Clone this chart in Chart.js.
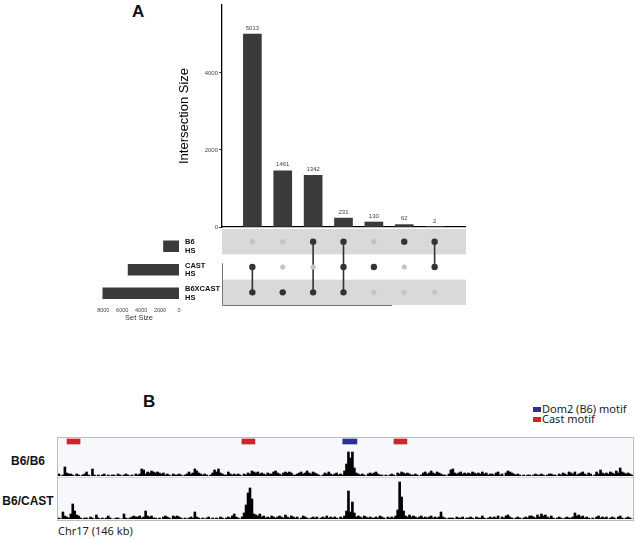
<!DOCTYPE html>
<html>
<head>
<meta charset="utf-8">
<script src="https://cdn.jsdelivr.net/npm/chart.js@4.4.0/dist/chart.umd.min.js"></script>
<style>
    html, body { margin: 0; padding: 0; background: #fff; }
    body { width: 636px; height: 539px; position: relative; overflow: hidden; font-family: "Liberation Sans", Arial, sans-serif; }
    canvas { position: absolute; }
    .txt { position: absolute; white-space: nowrap; line-height: 1; }
    .panel { font-size: 17px; font-weight: bold; color: #111; }
    .track-label { font-size: 12px; font-weight: bold; color: #111; width: 56px; text-align: center; }
    .note { font-family: "Noto Sans", "Open Sans", sans-serif; font-size: 11px; color: #222; }
    .swatch { position: absolute; width: 8px; height: 5px; }
</style>
</head>
<body>

<!-- Panel A -->
<div class="txt panel" style="left:132px; top:3px;">A</div>
<canvas id="intersectChart" width="340" height="235" style="left:130px; top:0px;"></canvas>
<canvas id="setSizeChart" width="135" height="110" style="left:90px; top:220px;"></canvas>
<canvas id="matrixChart" width="245" height="81" style="left:222px; top:227px;"></canvas>

<!-- Panel B -->
<div class="txt panel" style="left:143px; top:393px;">B</div>
<div class="swatch" style="left:533px; top:407px; background:#2e3192;"></div>
<div class="txt note" style="left:542px; top:403px;">Dom2 (B6) motif</div>
<div class="swatch" style="left:533px; top:417px; background:#d2232a;"></div>
<div class="txt note" style="left:542px; top:413px;">Cast motif</div>

<div class="txt track-label" style="left:0px; top:455px;">B6/B6</div>
<div class="txt track-label" style="left:0px; top:495px;">B6/CAST</div>

<div style="position:absolute; left:57px; top:437px; width:575px; height:82px; border:1px solid #bdbdbd; background:#f6f8fb;"></div>
<div style="position:absolute; left:58px; top:477px; width:575px; height:1px; background:#d3d6db;"></div>
<canvas id="motifChart" width="575" height="7" style="left:58px; top:438px;"></canvas>
<canvas id="trackB6" width="575" height="29" style="left:58px; top:447px;"></canvas>
<canvas id="trackCast" width="575" height="41" style="left:58px; top:478px;"></canvas>
<div class="txt note" style="left:58px; top:525px;">Chr17 (146 kb)</div>

<script>
// ==================== ДАННЫЕ ====================

// Панель A: пересечения наборов (UpSet)
const setNames = [['B6', 'HS'], ['CAST', 'HS'], ['B6XCAST', 'HS']];
const setSizes = [1637, 5376, 8047];
const intersectionSizes = [5013, 1461, 1342, 231, 130, 62, 2];
// индексы наборов (строк матрицы), входящих в каждый столбец
const intersectionSets = [[1, 2], [2], [0, 2], [0, 1, 2], [1], [0], [0, 1]];
const intersectionTicks = [0, 2000, 4000];
const setSizeTicks = [0, 2000, 4000, 6000, 8000];

// Панель B: сигнал по бинам 0.5 kb на 146 kb
const binKb = 0.5;
const b6Signal = [
    2,0,1,9,3,2,2,1,0,2,1,0,1,2,4,1,0,7,1,0,
    1,0,1,2,0,1,0,1,1,0,2,1,0,1,2,1,0,1,0,2,
    1,2,7,6,2,4,3,5,4,3,4,3,2,3,1,2,1,0,2,1,
    1,2,1,0,1,2,4,2,3,7,5,3,2,1,2,1,0,1,3,6,
    4,7,3,2,1,1,4,2,1,2,1,2,1,0,2,1,3,2,5,4,
    3,4,2,3,2,1,3,2,2,4,5,3,2,1,3,4,3,4,3,1,
    1,2,3,4,2,3,5,3,2,4,3,2,1,0,1,3,2,4,2,1,
    2,3,1,2,1,5,12,24,18,24,8,3,2,1,2,1,0,2,3,2,
    3,4,2,1,1,0,1,0,1,2,1,0,3,2,4,3,2,3,2,1,
    1,2,1,0,1,3,4,2,3,5,3,2,4,3,2,1,1,0,2,6,
    7,3,2,3,4,2,3,2,3,2,4,3,2,3,2,4,2,3,1,2,
    2,1,3,4,1,2,0,3,5,4,3,2,1,2,1,0,1,0,1,1,
    0,1,2,1,1,2,1,0,1,2,2,1,1,0,2,1,3,2,1,4,
    3,2,4,1,2,3,4,2,1,3,2,0,1,4,2,6,3,2,3,2,
    4,3,2,5,3,8,4,3,2,3,2,1
];
const castSignal = [
    1,0,7,3,2,1,5,15,8,4,3,1,0,1,1,0,2,1,0,4,
    1,0,1,0,1,3,1,0,0,1,1,0,0,5,1,0,1,2,3,2,
    2,3,1,2,8,3,2,3,1,1,0,1,0,2,3,2,1,0,3,2,
    3,2,1,0,1,0,1,2,1,7,2,1,0,1,0,1,2,0,1,0,
    1,0,2,1,0,1,2,1,3,5,2,1,0,2,6,14,26,31,20,5,
    4,3,5,2,3,1,2,1,3,2,1,2,3,2,1,4,2,1,3,2,
    1,2,0,1,3,2,1,0,1,2,1,2,0,1,2,1,3,1,2,1,
    2,1,0,2,1,3,8,28,7,17,6,2,3,2,1,3,2,1,2,1,
    1,2,1,3,2,1,0,2,1,2,1,3,9,37,22,8,3,2,4,2,
    3,2,1,2,3,1,2,1,2,3,1,2,1,2,7,2,1,0,1,1,
    1,0,2,1,1,2,0,1,1,2,1,0,2,1,1,3,1,0,1,2,
    1,2,1,3,0,2,1,3,4,2,1,0,1,2,1,0,1,2,1,3,
    3,2,1,4,2,5,3,4,2,1,3,1,0,1,2,1,0,1,2,1,
    1,2,6,3,4,2,3,1,2,1,0,1,0,2,3,1,2,1,2,0,
    1,2,1,0,2,3,1,0,1,2,1,0
];
// мотивы: [начало, конец] в kb
const castMotifs = [[2.3, 5.6], [46.7, 50], [85.3, 88.6]];
const dom2Motifs = [[72.3, 75.9]];
const regionKb = 146;

// ==================== ОБЩЕЕ ====================

Chart.defaults.font.family = '"Liberation Sans", Arial, sans-serif';
Chart.defaults.animation = false;
Chart.defaults.responsive = false;
Chart.defaults.plugins.legend.display = false;
Chart.defaults.plugins.tooltip.enabled = false;
Chart.defaults.layout.autoPadding = false;

const fixWidth = w => s => { s.width = w; };
const fixHeight = h => s => { s.height = h; };
const setTicks = values => s => { s.ticks = values.map(v => ({ value: v })); };
const plainNumber = v => String(v);

const barColor = '#3a3a3a';

/**
 * Подписи значений над столбцами пересечений
 */
const barLabels = {
    id: 'barLabels',
    afterDatasetsDraw(chart) {
        const ctx = chart.ctx;
        ctx.save();
        ctx.font = '6px "Liberation Sans", Arial';
        ctx.fillStyle = '#444';
        ctx.textAlign = 'center';
        ctx.textBaseline = 'bottom';
        chart.getDatasetMeta(0).data.forEach((bar, i) => {
            ctx.fillText(intersectionSizes[i], bar.x, bar.y - 3);
        });
        ctx.restore();
    }
};

// ==================== ПАНЕЛЬ A ====================

new Chart(document.getElementById('intersectChart'), {
    type: 'bar',
    data: {
        datasets: [{
            data: intersectionSizes.map((v, i) => ({ x: i, y: v })),
            backgroundColor: barColor,
            barThickness: 18
        }]
    },
    options: {
        layout: { padding: { top: 5, right: 5 } },
        scales: {
            x: {
                type: 'linear', min: -1, max: 7, offset: false,
                ticks: { display: false },
                grid: { display: false, drawTicks: false, offset: false },
                border: { display: true, color: '#000', width: 1.3 },
                afterFit: fixHeight(8)
            },
            y: {
                min: 0, max: 5765,
                afterFit: fixWidth(92),
                afterBuildTicks: setTicks(intersectionTicks),
                ticks: { font: { size: 6 }, color: '#444', padding: 1, callback: plainNumber },
                grid: { drawOnChartArea: false, drawTicks: true, tickLength: 3, color: '#444' },
                border: { display: true, color: '#000', width: 1.3 },
                title: { display: true, text: 'Intersection Size', font: { size: 13 }, color: '#000', padding: { top: 47 } }
            }
        }
    },
    plugins: [barLabels]
});

// размеры наборов (горизонтальные столбцы слева)
new Chart(document.getElementById('setSizeChart'), {
    type: 'bar',
    data: {
        labels: setNames,
        datasets: [{ data: setSizes, backgroundColor: barColor, barThickness: 11 }]
    },
    options: {
        indexAxis: 'y',
        layout: { padding: { left: 9, top: 9 } },
        scales: {
            x: {
                reverse: true, min: 0, max: 8450,
                afterFit: fixHeight(25),
                afterBuildTicks: setTicks(setSizeTicks),
                ticks: { font: { size: 5.5 }, color: '#444', padding: 2, autoSkip: false, maxRotation: 0, callback: plainNumber },
                grid: { display: false, drawTicks: false },
                border: { display: false },
                title: { display: true, text: 'Set Size', font: { size: 7.5 }, color: '#333', padding: { top: 0, bottom: 7.5 } }
            },
            y: {
                position: 'right',
                afterFit: fixWidth(46),
                ticks: { font: { size: 7.5, weight: 'bold', lineHeight: 1.13 }, color: '#111', padding: 6 },
                grid: { display: false, drawTicks: false },
                border: { display: false }
            }
        }
    }
});

// матрица точек
const grayDots = [];
const darkDots = [];
const links = [];
intersectionSets.forEach((sets, col) => {
    setNames.forEach((_, row) => {
        (sets.includes(row) ? darkDots : grayDots).push({ x: col, y: row });
    });
    if (sets.length > 1) {
        links.push({
            type: 'line',
            data: [{ x: col, y: Math.min(...sets) }, { x: col, y: Math.max(...sets) }],
            borderColor: '#333', borderWidth: 1.6, pointRadius: 0
        });
    }
});

const matrixShade = {
    id: 'matrixShade',
    beforeDatasetsDraw(chart) {
        const { ctx, chartArea: a, scales: { x, y } } = chart;
        ctx.save();
        ctx.fillStyle = '#d9d9d9';
        [0, 2].forEach(r => {
            const t = y.getPixelForValue(r - 0.5);
            const b = y.getPixelForValue(r + 0.5);
            ctx.fillRect(a.left, Math.min(t, b), a.right - a.left + 1, Math.abs(b - t));
        });
        // тонкая рамка снизу и слева, как в исходной фигуре
        ctx.strokeStyle = '#777';
        ctx.lineWidth = 1;
        ctx.beginPath();
        ctx.moveTo(a.left + 0.5, y.getPixelForValue(0.85));
        ctx.lineTo(a.left + 0.5, a.bottom + 0.5);
        ctx.lineTo(x.getPixelForValue(4.6), a.bottom + 0.5);
        ctx.stroke();
        ctx.restore();
    }
};

new Chart(document.getElementById('matrixChart'), {
    type: 'scatter',
    data: {
        datasets: [
            { data: grayDots, backgroundColor: '#c4c4c4', pointRadius: 2.6, pointBorderWidth: 0 },
            ...links,
            { data: darkDots, backgroundColor: '#333', pointRadius: 3.2, pointBorderWidth: 0 }
        ]
    },
    options: {
        layout: { padding: { top: 2, bottom: 3, right: 2 } },
        scales: {
            x: { type: 'linear', min: -1, max: 7, display: false },
            y: { type: 'linear', min: -0.5, max: 2.5, reverse: true, display: false }
        }
    },
    plugins: [matrixShade]
});

// ==================== ПАНЕЛЬ B ====================

function motifDataset(m, color) {
    return { data: [m], backgroundColor: color, barThickness: 5, grouped: false };
}

new Chart(document.getElementById('motifChart'), {
    type: 'bar',
    data: {
        labels: ['motif'],
        datasets: [
            ...castMotifs.map(m => motifDataset(m, '#d2232a')),
            ...dom2Motifs.map(m => motifDataset(m, '#2e3192'))
        ]
    },
    options: {
        indexAxis: 'y',
        scales: {
            x: { type: 'linear', min: 0, max: regionKb, display: false },
            y: { display: false }
        }
    }
});

function renderTrack(id, values, yMax) {
    new Chart(document.getElementById(id), {
        type: 'bar',
        data: {
            labels: values.map((_, i) => i * binKb),
            datasets: [{
                data: values,
                backgroundColor: '#000',
                categoryPercentage: 1,
                barPercentage: 1
            }]
        },
        options: {
            scales: {
                x: { display: false },
                y: { display: false, min: 0, max: yMax }
            }
        }
    });
}

renderTrack('trackB6', b6Signal, 29);
renderTrack('trackCast', castSignal, 41);
</script>
</body>
</html>
